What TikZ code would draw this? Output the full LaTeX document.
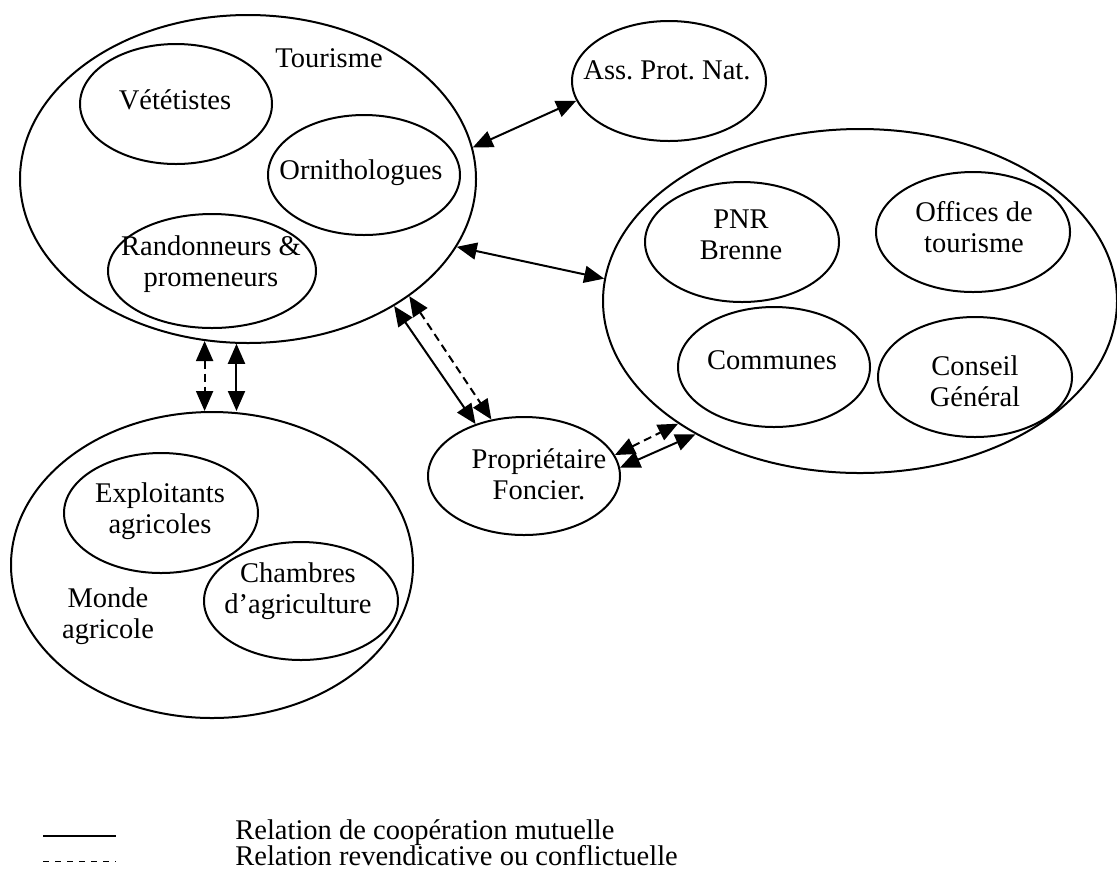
\documentclass[tikz,border=0pt]{standalone}
\usepackage{fontspec}
\setmainfont{Liberation Serif}
\usetikzlibrary{arrows.meta,shapes.geometric}
\frenchspacing
\tikzset{
  >={Triangle[length=10pt,width=8.5pt]},
  every node/.style={font=\fontsize{14.25}{15.5}\selectfont},
  grp/.style={draw,ellipse,line width=1pt,inner sep=0pt},
  txt/.style={align=center,inner sep=0pt},
  coop/.style={<->,line width=1pt},
  claim/.style={<->,line width=1pt,dash pattern=on 4pt off 2.5pt},
}

\begin{document}
\begin{tikzpicture}[x=0.5pt,y=-0.5pt]
  \useasboundingbox (0,0) rectangle (1117,874);
  \node[grp,minimum width=228pt,minimum height=164pt] (tour) at (248,179) {};
  \node[grp,minimum width=96pt,minimum height=60pt] (vtt) at (176,104) {};
  \node[grp,minimum width=96pt,minimum height=60pt] (orni) at (364,175) {};
  \node[grp,minimum width=104pt,minimum height=57pt] (rando) at (212,271) {};
  \node[txt] (tourT) at (329,58) {Tourisme};
  \node[txt] (vttT) at (175,100) {Vététistes};
  \node[txt] (orniT) at (361,173) {Ornithologues};
  \node[txt] (randoT) at (211,264) {Randonneurs \&\\promeneurs};
  \node[grp,minimum width=97pt,minimum height=60pt] (ass) at (669,81) {};
  \node[txt] (assT) at (667,70) {Ass. Prot. Nat.};
  \node[grp,minimum width=257pt,minimum height=172pt] (inst) at (860,301) {};
  \node[grp,minimum width=97pt,minimum height=60pt] (pnr) at (742,242) {};
  \node[grp,minimum width=97pt,minimum height=60pt] (ot) at (973,232) {};
  \node[grp,minimum width=96pt,minimum height=60pt] (com) at (774,367) {};
  \node[grp,minimum width=97pt,minimum height=60pt] (cg) at (975,377) {};
  \node[txt] (pnrT) at (741,235) {PNR\\Brenne};
  \node[txt] (otT) at (974,227) {Offices de\\tourisme};
  \node[txt] (comT) at (772,360) {Communes};
  \node[txt] (cgT) at (975,381) {Conseil\\Général};
  \node[grp,minimum width=96pt,minimum height=59pt] (prop) at (524,476) {};
  \node[txt] (propT) at (539,474) {Propriétaire\\Foncier.};
  \node[grp,minimum width=201pt,minimum height=153pt] (agri) at (212,565) {};
  \node[grp,minimum width=97pt,minimum height=60pt] (expl) at (161,513) {};
  \node[grp,minimum width=97pt,minimum height=59pt] (ch) at (301,601) {};
  \node[txt] (explT) at (160,511) {Exploitants\\agricoles};
  \node[txt] (chT) at (298,591) {Chambres\\d’agriculture};
  \node[txt] (agriT) at (108,616) {Monde\\agricole};

  \draw[coop] (tour.8.4) -- (ass.192.8);
  \draw[coop] (tour.342.4) -- (inst.175.8);
  \draw[coop] (tour.319.2) -- (prop.133.9);
  \draw[claim] (tour.324.1) -- (prop.120.4);
  \draw[claim] (tour.255) -- (tour.255 |- agri.north);
  \draw[coop] (tour.266.1) -- (tour.266.1 |- agri.north);
  \draw[claim] (prop.13.6) -- (inst.214.6);
  \draw[coop] (prop.5.2) -- (inst.219.2);

  \coordinate (solA) at (43,836);
  \coordinate (solB) at (116,836);
  \coordinate (dasA) at (43,861);
  \coordinate (dasB) at (116,861);
  \draw[line width=1pt] (solA) -- (solB);
  \draw[line width=0.5pt,dash pattern=on 3pt off 3pt] (dasA) -- (dasB);
  \node[anchor=base west,inner sep=0pt] (legCoop) at (235,839) {Relation de coopération mutuelle};
  \node[anchor=base west,inner sep=0pt] (legClaim) at (235,865) {Relation revendicative ou conflictuelle};
\end{tikzpicture}
\end{document}
